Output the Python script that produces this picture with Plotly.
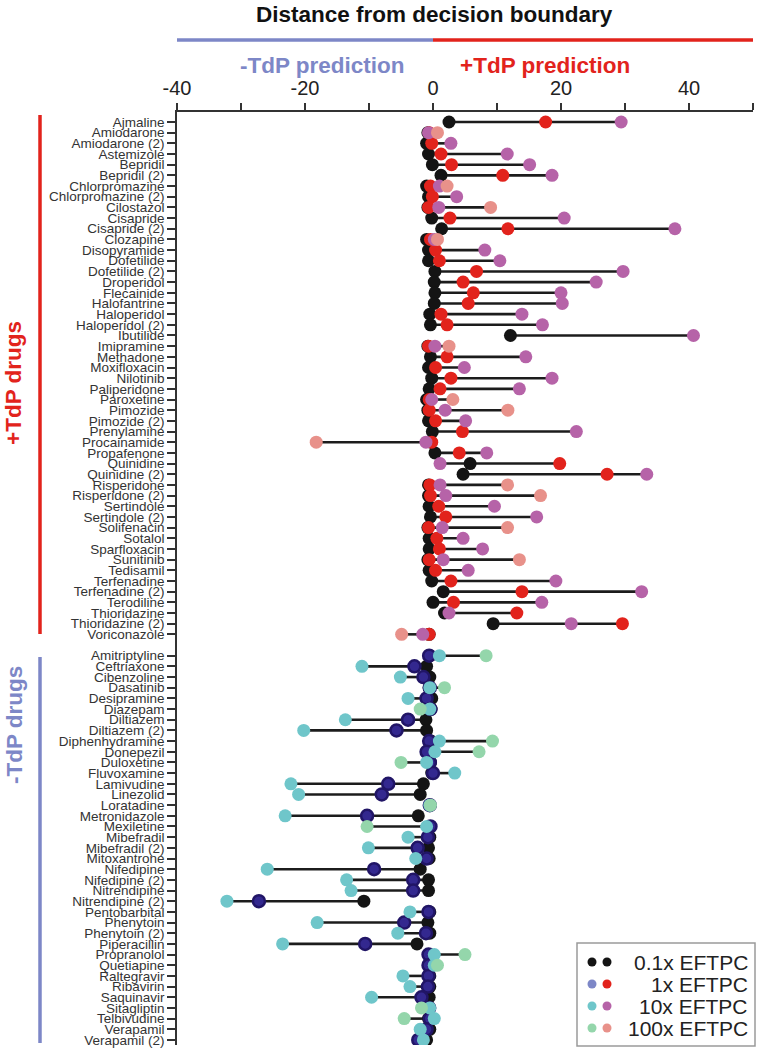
import plotly.graph_objects as go

# ---------------- data ----------------
pos_drugs = ["Ajmaline", "Amiodarone", "Amiodarone (2)", "Astemizole", "Bepridil", "Bepridil (2)",
             "Chlorpromazine", "Chlorpromazine (2)", "Cilostazol", "Cisapride", "Cisapride (2)",
             "Clozapine", "Disopyramide", "Dofetilide", "Dofetilide (2)", "Droperidol", "Flecainide",
             "Halofantrine", "Haloperidol", "Haloperidol (2)", "Ibutilide", "Imipramine", "Methadone",
             "Moxifloxacin", "Nilotinib", "Paliperidone", "Paroxetine", "Pimozide", "Pimozide (2)",
             "Prenylamine", "Procainamide", "Propafenone", "Quinidine", "Quinidine (2)", "Risperidone",
             "Risperidone (2)", "Sertindole", "Sertindole (2)", "Solifenacin", "Sotalol", "Sparfloxacin",
             "Sunitinib", "Tedisamil", "Terfenadine", "Terfenadine (2)", "Terodiline", "Thioridazine",
             "Thioridazine (2)", "Voriconazole"]
pos_01x = [2.5, -0.8, -1.0, -0.7, -0.1, 1.25, -1.0, -0.7, -0.8, -0.2, 1.35, -1.0, -0.7, -0.7, 0.3, 0.2,
           0.3, 0.2, -0.5, -0.4, 12.1, -0.8, -0.4, -0.7, -0.2, -0.6, -1.0, -0.8, -0.7, -0.1, -0.3, 0.3,
           5.8, 4.7, -0.7, -0.7, -0.6, -0.4, -0.8, -0.6, -0.6, -0.8, -0.6, -0.2, 1.6, 0.0, 1.8, 9.4, -0.6]
pos_1x = [17.6, -0.6, -0.2, 1.25, 2.9, 10.9, -0.4, -0.1, -0.7, 2.65, 11.7, -0.4, 0.4, 1.0, 6.8, 4.7,
          6.3, 5.5, 1.25, 2.2, None, -0.7, 2.2, 0.4, 2.8, 1.1, -0.6, -0.6, 0.4, 4.6, -0.2, 4.1,
          19.8, 27.2, -0.5, -0.4, 0.9, 2.0, -0.7, 0.6, 1.0, -0.6, 0.4, 2.8, 13.9, 3.2, 13.1, 29.6, -0.6]
pos_10x = [29.4, -0.7, 2.8, 11.6, 15.1, 18.6, 1.0, 3.7, 0.9, 20.5, 37.8, 0.2, 8.1, 10.45, 29.7, 25.5,
           20.0, 20.2, 13.9, 17.1, 40.7, 0.3, 14.5, 4.9, 18.6, 13.5, -0.2, 1.9, 5.1, 22.4, -1.1, 8.4,
           1.1, 33.4, 1.1, 2.0, 9.6, 16.2, 1.45, 4.7, 7.75, 1.6, 5.5, 19.2, 32.6, 17.0, 2.5, 21.6, -1.6]
pos_100x = [None, 0.7, None, None, None, None, 2.2, None, 9.0, None, None, 0.7, None, None, None, None,
            None, None, None, None, None, 2.5, None, None, None, None, 3.1, 11.7, None, None, -18.25, None,
            None, None, 11.65, 16.8, None, None, 11.65, None, None, 13.5, None, None, None, None, None, None, -4.9]

neg_drugs = ["Amitriptyline", "Ceftriaxone", "Cibenzoline", "Dasatinib", "Desipramine", "Diazepam",
             "Diltiazem", "Diltiazem (2)", "Diphenhydramine", "Donepezil", "Duloxetine", "Fluvoxamine",
             "Lamivudine", "Linezolid", "Loratadine", "Metronidazole", "Mexiletine", "Mibefradil",
             "Mibefradil (2)", "Mitoxantrone", "Nifedipine", "Nifedipine (2)", "Nitrendipine",
             "Nitrendipine (2)", "Pentobarbital", "Phenytoin", "Phenytoin (2)", "Piperacillin",
             "Propranolol", "Quetiapine", "Raltegravir", "Ribavirin", "Saquinavir", "Sitagliptin",
             "Telbivudine", "Verapamil", "Verapamil (2)"]
neg_01x = [-0.5, -1.0, -0.5, -0.6, -0.2, -0.3, -1.1, -1.0, -0.3, -0.5, -0.4, -0.2, -1.5, -2.0, -0.5,
           -2.3, -0.5, -0.5, -0.7, -0.6, -2.0, -0.7, -0.7, -10.8, -0.5, -0.8, -0.5, -2.5, -0.5, -0.5,
           -0.5, -0.5, -0.6, -0.6, -0.7, -0.5, -1.0]
neg_1x = [-0.6, -2.9, -1.5, -0.5, -1.0, -0.4, -3.9, -5.7, -0.6, -1.0, -0.5, 0.0, -7.0, -8.0, -0.5,
          -10.3, -0.4, -0.8, -2.4, -1.0, -9.2, -3.1, -3.1, -27.2, -0.7, -4.5, -1.1, -10.6, -0.7, -0.7,
          -0.7, -0.8, -1.8, -0.6, -0.5, -1.0, -2.3]
neg_10x = [1.0, -11.1, -5.1, -0.5, -3.9, -0.5, -13.7, -20.2, 1.0, 0.3, -1.0, 3.4, -22.2, -21.0, -0.5,
           -23.1, -1.0, -3.9, -10.1, -2.7, -25.9, -13.5, -12.8, -32.2, -3.6, -18.1, -5.5, -23.5, 0.2, 0.2,
           -4.7, -3.6, -9.6, -0.5, 0.2, -2.0, -1.5]
neg_100x = [8.3, None, None, 1.8, None, -2.0, None, None, 9.3, 7.2, -5.0, None, None, None, -0.4,
            None, -10.3, None, None, None, None, None, None, None, None, None, None, None, 5.0, 0.7,
            None, None, None, -1.8, -4.5, None, None]

x_tickvals = [-40, -30, -20, -10, 0, 10, 20, 30, 40, 50]
x_ticktext = ["-40", "", "-20", "", "0", "", "20", "", "40", ""]

legend_labels = ["0.1x EFTPC", "1x EFTPC", "10x EFTPC", "100x EFTPC"]

# ---------------- styles ----------------
BLACK = "#141414"
RED = "#e2231c"
PURPLE = "#b663a8"
SALMON = "#e8918a"
NAVY = "#33288f"
NAVY_EDGE = "#211566"
TEAL = "#6fc6ca"
GREEN = "#94d6ab"
PERI = "#7d87c7"
LINE_RED = "#e2231c"
LINE_BLUE = "#7d87c7"

pos_rows = list(range(len(pos_drugs)))
neg_start = len(pos_drugs) + 1
neg_rows = [neg_start + i for i in range(len(neg_drugs))]

fig = go.Figure()


def add_group(rows, series, colors, edge=None):
    lx, ly = [], []
    for i, r in enumerate(rows):
        vals = [s[i] for s in series if s[i] is not None]
        if len(vals) > 1:
            lx += [min(vals), max(vals), None]
            ly += [r, r, None]
    fig.add_trace(go.Scatter(x=lx, y=ly, mode="lines",
                             line=dict(color="#1c1c1c", width=2.6),
                             hoverinfo="skip", showlegend=False))
    for k, (s, c) in enumerate(zip(series, colors)):
        xs = [v for v in s if v is not None]
        ys = [r for v, r in zip(s, rows) if v is not None]
        mk = dict(color=c, size=13, line=dict(width=0))
        if edge is not None and edge[k] is not None:
            mk["line"] = dict(color=edge[k], width=2.5)
            mk["size"] = 12
        fig.add_trace(go.Scatter(x=xs, y=ys, mode="markers", marker=mk,
                                 showlegend=False))


add_group(pos_rows, [pos_01x, pos_1x, pos_10x, pos_100x], [BLACK, RED, PURPLE, SALMON])
add_group(neg_rows, [neg_01x, neg_1x, neg_10x, neg_100x], [BLACK, NAVY, TEAL, GREEN],
          edge=[None, NAVY_EDGE, None, None])

# ---------------- layout geometry ----------------
W, H = 762, 1050
L, R, T, B = 177, 9, 112, 5
PW, PH = W - L - R, H - T - B
ROW = 10.674
FIRST = 122


def px2x(px):
    return (px - L) / PW


def py2y(py):
    return (H - B - py) / PH


y_top = -(FIRST - T) / ROW
y_bot = (H - B - FIRST) / ROW

fig.update_layout(
    width=W, height=H,
    margin=dict(l=L, r=R, t=T, b=B, autoexpand=False),
    plot_bgcolor="white", paper_bgcolor="white",
    font=dict(family="Liberation Sans, Arial, sans-serif", color="#222"),
    showlegend=False,
    xaxis=dict(side="top", range=[-40, 50], tickvals=x_tickvals, ticktext=x_ticktext,
               ticks="outside", ticklen=7, tickwidth=1.5, tickcolor="#333", automargin=False,
               showline=True, linecolor="#333", linewidth=1.5, showgrid=False, zeroline=False,
               tickfont=dict(size=20, color="#222")),
    yaxis=dict(range=[y_bot, y_top], tickvals=pos_rows + neg_rows, ticktext=pos_drugs + neg_drugs,
               ticks="outside", ticklen=8, tickwidth=1.5, tickcolor="#333", automargin=False,
               showline=True, linecolor="#333", linewidth=1.5, showgrid=False, zeroline=False,
               tickfont=dict(size=13.5, color="#333")),
)

annos = []
shapes = []

# top title and prediction bands
annos.append(dict(text="<b>Distance from decision boundary</b>", x=px2x(434), y=py2y(14),
                  xref="paper", yref="paper", showarrow=False, xanchor="center", yanchor="middle",
                  font=dict(size=22.5, color="#111")))
shapes.append(dict(type="line", xref="x", yref="paper", x0=-40, x1=0, y0=py2y(40), y1=py2y(40),
                   line=dict(color=LINE_BLUE, width=3.5)))
shapes.append(dict(type="line", xref="x", yref="paper", x0=0, x1=50, y0=py2y(40), y1=py2y(40),
                   line=dict(color=LINE_RED, width=3.5)))
annos.append(dict(text="<b>-TdP prediction</b>", x=px2x(322), y=py2y(66), xref="paper", yref="paper",
                  showarrow=False, xanchor="center", yanchor="middle",
                  font=dict(size=22.5, color=LINE_BLUE)))
annos.append(dict(text="<b>+TdP prediction</b>", x=px2x(545), y=py2y(66), xref="paper", yref="paper",
                  showarrow=False, xanchor="center", yanchor="middle",
                  font=dict(size=22.5, color=LINE_RED)))

# left group bars and labels
shapes.append(dict(type="line", xref="paper", yref="paper", x0=px2x(40), x1=px2x(40),
                   y0=py2y(115), y1=py2y(634), line=dict(color=LINE_RED, width=3.5)))
shapes.append(dict(type="line", xref="paper", yref="paper", x0=px2x(40), x1=px2x(40),
                   y0=py2y(657), y1=py2y(1043), line=dict(color=LINE_BLUE, width=3.5)))
annos.append(dict(text="<b>+TdP drugs</b>", x=px2x(14), y=py2y(383), xref="paper", yref="paper",
                  showarrow=False, textangle=-90, xanchor="center", yanchor="middle",
                  font=dict(size=22.5, color=LINE_RED)))
annos.append(dict(text="<b>-TdP drugs</b>", x=px2x(14), y=py2y(725), xref="paper", yref="paper",
                  showarrow=False, textangle=-90, xanchor="center", yanchor="middle",
                  font=dict(size=22.5, color=LINE_BLUE)))

# legend box
shapes.append(dict(type="rect", xref="paper", yref="paper", x0=px2x(577), x1=px2x(755),
                   y0=py2y(1046), y1=py2y(943), line=dict(color="#9a9a9a", width=1.5),
                   fillcolor="white", layer="above"))
leg_left = [BLACK, PERI, TEAL, GREEN]
leg_right = [BLACK, RED, PURPLE, SALMON]
leg_y = [962, 984, 1006, 1028]
r = 4.5
for lab, c1, c2, yy in zip(legend_labels, leg_left, leg_right, leg_y):
    for cx, col in ((592, c1), (607, c2)):
        shapes.append(dict(type="circle", xref="paper", yref="paper",
                           x0=px2x(cx - r), x1=px2x(cx + r), y0=py2y(yy + r), y1=py2y(yy - r),
                           fillcolor=col, line=dict(width=0), layer="above"))
    annos.append(dict(text=lab, x=px2x(750), y=py2y(yy), xref="paper", yref="paper",
                      showarrow=False, xanchor="right", yanchor="middle",
                      font=dict(size=21, color="#222")))

fig.update_layout(annotations=annos, shapes=shapes)
fig.write_html("out.html", config={"displayModeBar": False},
               post_script="document.body.style.margin='0px';document.body.style.overflow='hidden';")
